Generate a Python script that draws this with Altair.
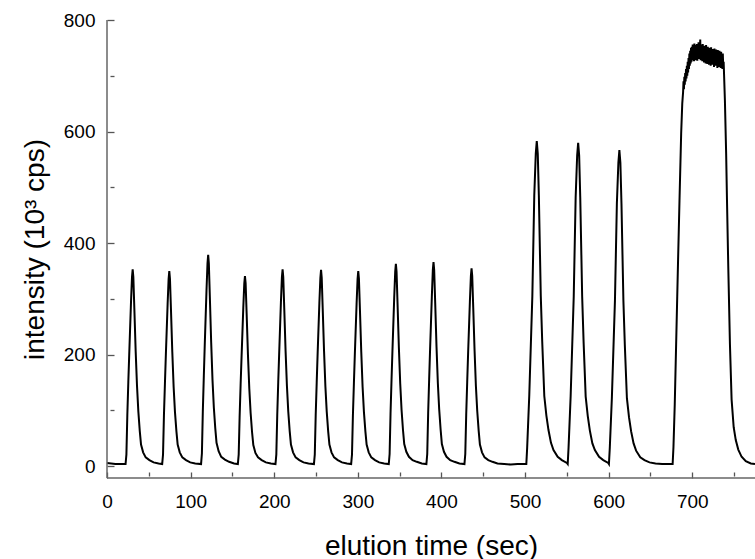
import altair as alt
import pandas as pd

# ---- data (elution time in s, intensity in 10^3 cps) ----
start_t = [0, 5, 10, 15, 20]
start_y = [6, 5, 4, 4, 4]

peak1_t = [22.2, 23.2, 24.3, 25.5, 26.7, 28.7, 29.9, 30.7, 31.5, 32.7, 34.3, 35.9, 37.5, 39.2, 40.7, 43.2, 46.3, 50.7, 55.7, 61.7]
peak1_y = [4, 21, 91, 151, 206, 294, 339, 353, 339, 283, 206, 144, 98, 63, 39, 25, 16, 11, 7, 5]
peak2_t = [66, 67, 68.1, 69.3, 70.5, 72.5, 73.7, 74.5, 75.3, 76.5, 78.1, 79.7, 81.3, 83, 84.5, 87, 90.1, 94.5, 99.5, 105.5]
peak2_y = [4, 21, 91, 149, 205, 291, 336, 350, 336, 281, 205, 142, 97, 63, 39, 25, 16, 11, 7, 5]
peak3_t = [112.5, 113.5, 114.6, 115.8, 117, 119, 120.2, 121, 121.8, 123, 124.6, 126.2, 127.8, 129.5, 131, 133.5, 136.6, 141, 146, 152]
peak3_y = [4, 23, 98, 162, 222, 315, 364, 379, 364, 304, 222, 154, 105, 68, 42, 27, 17, 12, 8, 5]
peak4_t = [156.5, 157.5, 158.6, 159.8, 161, 163, 164.2, 165, 165.8, 167, 168.6, 170.2, 171.8, 173.5, 175, 177.5, 180.6, 185, 190, 196]
peak4_y = [4, 21, 88, 146, 199, 284, 328, 341, 328, 274, 199, 139, 95, 61, 38, 24, 16, 11, 7, 5]
peak5_t = [201.5, 202.5, 203.6, 204.8, 206, 208, 209.2, 210, 210.8, 212, 213.6, 215.2, 216.8, 218.5, 220, 222.5, 225.6, 230, 235, 241]
peak5_y = [4, 21, 91, 151, 206, 294, 339, 353, 339, 283, 206, 144, 98, 63, 39, 25, 16, 11, 7, 5]
peak6_t = [247.5, 248.5, 249.6, 250.8, 252, 254, 255.2, 256, 256.8, 258, 259.6, 261.2, 262.8, 264.5, 266, 268.5, 271.6, 276, 281, 287]
peak6_y = [4, 21, 91, 150, 206, 293, 338, 352, 338, 282, 206, 143, 98, 63, 39, 25, 16, 11, 7, 5]
peak7_t = [292, 293, 294.1, 295.3, 296.5, 298.5, 299.7, 300.5, 301.3, 302.5, 304.1, 305.7, 307.3, 309, 310.5, 313, 316.1, 320.5, 325.5, 331.5]
peak7_y = [4, 21, 91, 149, 205, 291, 336, 350, 336, 281, 205, 142, 97, 63, 39, 25, 16, 11, 7, 5]
peak8_t = [337, 338, 339.1, 340.3, 341.5, 343.5, 344.7, 345.5, 346.3, 347.5, 349.1, 350.7, 352.3, 354, 355.5, 358, 361.1, 365.5, 370.5, 376.5]
peak8_y = [4, 22, 94, 155, 212, 302, 349, 363, 349, 291, 212, 148, 101, 65, 40, 26, 17, 11, 8, 5]
peak9_t = [382, 383, 384.1, 385.3, 386.5, 388.5, 389.7, 390.5, 391.3, 392.5, 394.1, 395.7, 397.3, 399, 400.5, 403, 406.1, 410.5, 415.5, 421.5]
peak9_y = [4, 22, 95, 156, 214, 304, 352, 366, 352, 294, 214, 149, 102, 66, 40, 26, 17, 11, 8, 5]
peak10_t = [427.5, 428.5, 429.6, 430.8, 432, 434, 435.2, 436, 436.8, 438, 439.6, 441.2, 442.8, 444.5, 446, 448.5, 451.6, 456, 461, 467]
peak10_y = [4, 22, 92, 151, 208, 295, 341, 355, 341, 285, 208, 144, 99, 64, 39, 25, 16, 11, 8, 5]

gap_t = [475, 483, 491, 497]
gap_y = [4, 3, 4, 4]

peak11_t = [501.5, 502.5, 505, 508.7, 511, 512.8, 514, 515.2, 516.5, 518.8, 520.5, 523, 525.5, 528, 531, 534, 539, 544, 550]
peak11_y = [4, 33, 126, 305, 485, 560, 583, 560, 485, 305, 224, 126, 91, 65, 42, 29, 17, 11, 6]
peak12_t = [551, 552, 554.5, 558.2, 560.5, 562.3, 563.5, 564.7, 566, 568.3, 570, 572.5, 575, 577.5, 580.5, 583.5, 588.5, 593.5, 599.5]
peak12_y = [4, 33, 125, 304, 482, 557, 580, 557, 482, 304, 223, 125, 90, 64, 41, 29, 17, 11, 6]
peak13_t = [600.3, 601.3, 603.8, 607.5, 609.8, 611.6, 612.8, 614, 615.3, 617.6, 619.3, 621.8, 624.3, 626.8, 629.8, 632.8, 637.8, 642.8, 648.8, 656, 664, 671]
peak13_y = [4, 32, 122, 297, 471, 544, 567, 544, 471, 297, 218, 122, 88, 63, 41, 28, 16, 11, 7, 5, 4, 4]

rise_t = [676.5, 677.5, 679, 681, 683, 684.7, 686.7, 688, 689]
rise_y = [4, 35, 110, 240, 370, 477, 597, 650, 671]

top_t = [689.5, 690, 690.5, 691, 691.5, 692, 692.5, 693, 693.5, 694, 694.5, 695, 695.5, 696,
         696.5, 697, 697.5, 698, 698.5, 699, 699.5, 700, 700.5, 701, 701.5, 702, 702.5, 703,
         703.5, 704, 704.5, 705, 705.5, 706, 706.5, 707, 707.5, 708, 708.5, 709, 709.5, 710,
         710.5, 711, 711.5, 712, 712.5, 713, 713.5, 714, 714.5, 715, 715.5, 716, 716.5, 717,
         717.5, 718, 718.5, 719, 719.5, 720, 720.5, 721, 721.5, 722, 722.5, 723, 723.5, 724,
         724.5, 725, 725.5, 726, 726.5, 727, 727.5, 728, 728.5, 729, 729.5, 730, 730.5, 731,
         731.5, 732, 732.5, 733, 733.5, 734, 734.5, 735, 735.5, 736, 736.5, 737, 737.5]
top_y = [690, 676, 698, 684, 705, 690, 712, 695, 718, 700, 725, 706, 732, 712,
         740, 718, 745, 722, 750, 725, 752, 728, 756, 730, 752, 726, 758, 732,
         750, 728, 755, 733, 757, 727, 752, 735, 760, 730, 754, 738, 765, 728,
         756, 733, 752, 726, 757, 731, 750, 724, 754, 730, 748, 722, 755, 728,
         750, 721, 752, 727, 746, 720, 750, 726, 745, 718, 751, 725, 744, 720,
         748, 722, 745, 716, 749, 724, 742, 718, 747, 720, 744, 714, 746, 722,
         742, 716, 745, 720, 740, 714, 743, 718, 738, 712, 740, 716, 725]

fall_t = [739, 740.5, 741.5, 743, 745, 747, 749.5, 752, 755, 759, 764, 770, 775]
fall_y = [656, 560, 477, 360, 220, 120, 70, 47, 30, 17, 9, 5, 4]

# axis ticks: labelled (major) and unlabelled (minor) positions
x_ticks = [0, 50, 100, 150, 200, 250, 300, 350, 400, 450, 500, 550, 600, 650, 700, 750]
y_ticks = [0, 100, 200, 300, 400, 500, 600, 700, 800]

segments = [
    (start_t, start_y), (peak1_t, peak1_y), (peak2_t, peak2_y), (peak3_t, peak3_y),
    (peak4_t, peak4_y), (peak5_t, peak5_y), (peak6_t, peak6_y), (peak7_t, peak7_y),
    (peak8_t, peak8_y), (peak9_t, peak9_y), (peak10_t, peak10_y), (gap_t, gap_y),
    (peak11_t, peak11_y), (peak12_t, peak12_y), (peak13_t, peak13_y),
    (rise_t, rise_y), (top_t, top_y), (fall_t, fall_y),
]
times, vals = [], []
for ts, ys in segments:
    times += ts
    vals += ys
df = pd.DataFrame({"t": times, "y": vals})

W, H = 648, 458
FONT = "Liberation Sans"
AXIS_GREY = "#666666"
x_scale = alt.Scale(domain=[0, 775], nice=False, zero=False)
y_scale = alt.Scale(domain=[-21, 800], nice=False, zero=False)

# axes are pulled inside the plot so that their ticks point inward; the
# axis lines themselves are drawn as two frame rules along the plot edges
line = alt.Chart(df).mark_line(color="black", strokeWidth=2).encode(
    x=alt.X("t:Q", scale=x_scale, title="elution time (sec)",
            axis=alt.Axis(
                values=x_ticks, offset=-6, domain=False,
                tickSize=alt.ExprRef("datum.value % 100 === 0 ? 6 : 4"),
                labelExpr="datum.value % 100 === 0 ? datum.label : ''",
                labelPadding=14, labelFlush=False,
                titleY=82, titleBaseline="alphabetic")),
    y=alt.Y("y:Q", scale=y_scale, title="intensity (10³ cps)",
            axis=alt.Axis(
                values=y_ticks, offset=-7, domain=False,
                tickSize=alt.ExprRef("datum.value % 200 === 0 ? 7 : 4"),
                labelExpr="datum.value % 200 === 0 ? datum.label : ''",
                labelPadding=12,
                titleX=-71, titleY=H / 2, titleAngle=270, titleAlign="center",
                titleBaseline="alphabetic")),
)

frame_df = pd.DataFrame({"edge": ["bottom", "left"]})
x_line = alt.Chart(frame_df).transform_filter("datum.edge == 'bottom'").mark_rule(
    color=AXIS_GREY, strokeWidth=1.5).encode(
    x=alt.value(0), x2=alt.value(W), y=alt.value(H))
y_line = alt.Chart(frame_df).transform_filter("datum.edge == 'left'").mark_rule(
    color=AXIS_GREY, strokeWidth=1.5).encode(
    x=alt.value(0), y=alt.value(0), y2=alt.value(H))

chart = alt.layer(line, x_line, y_line).properties(
    width=W, height=H,
    padding={"left": 107, "top": 20, "right": 0, "bottom": 81},
    autosize=alt.AutoSizeParams(type="none"),
).configure_view(stroke=None).configure_axis(
    ticks=True, tickColor="#555555", tickWidth=1.3, grid=False,
    labelFont=FONT, labelFontSize=19, labelColor="black", titleFont=FONT,
    titleFontSize=28, titleFontWeight="normal", titleColor="black", labelOverlap=False,
)

chart.save("out.html", embed_options={"renderer": "svg", "actions": False})
